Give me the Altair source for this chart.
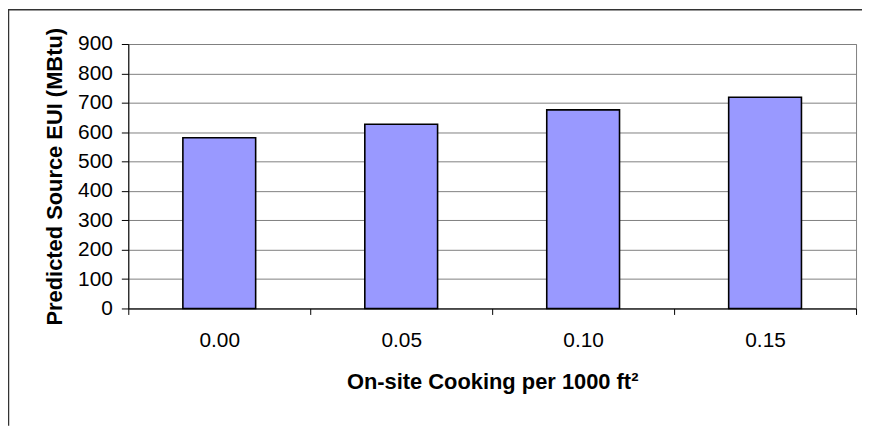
import altair as alt
import pandas as pd

categories = ["0.00", "0.05", "0.10", "0.15"]
values = [581, 627, 676, 719]
y_ticks = [0, 100, 200, 300, 400, 500, 600, 700, 800, 900]

df = pd.DataFrame({"cooking": categories, "eui": values})

FONT = "Arial, Liberation Sans, sans-serif"

bars = alt.Chart(df).mark_bar(
    width=alt.RelativeBandSize(0.4),
    fill="#9999FF",
    stroke="black",
    strokeWidth=1.6,
).encode(
    x=alt.X(
        "cooking:N",
        sort=categories,
        scale=alt.Scale(paddingInner=0, paddingOuter=0),
        axis=alt.Axis(
            title="On-site Cooking per 1000 ft²",
            labelAngle=0,
            labelFont=FONT,
            labelFontSize=21,
            labelColor="black",
            labelPadding=15,
            tickBand="extent",
            tickSize=6,
            tickColor="black",
            tickWidth=1,
            domainColor="black",
            domainWidth=1,
            grid=False,
            titleFont=FONT,
            titleFontSize=22,
            titleFontWeight="bold",
            titleColor="black",
            titleBaseline="alphabetic",
            titleY=81,
        ),
    ),
    y=alt.Y(
        "eui:Q",
        scale=alt.Scale(domain=[0, 900], nice=False),
        axis=alt.Axis(
            values=y_ticks,
            title="Predicted Source EUI (MBtu)",
            labelFont=FONT,
            labelFontSize=21,
            labelColor="black",
            labelPadding=9,
            tickSize=7,
            tickColor="black",
            tickWidth=1,
            domainColor="black",
            domainWidth=1,
            grid=True,
            gridColor="#808080",
            gridWidth=1,
            titleFont=FONT,
            titleFontSize=22,
            titleFontWeight="bold",
            titleColor="black",
            titleBaseline="alphabetic",
            titleAngle=270,
            titleX=-67,
            titleY=133,
            titleAlign="center",
        ),
    ),
)

frame_data = alt.Data(values=[{"k": 1}])
left_line = alt.Chart(frame_data).mark_rule(color="#333333", strokeWidth=1.5).encode(
    x=alt.value(-120.5), y=alt.value(-35), y2=alt.value(384)
)
top_line = alt.Chart(frame_data).mark_rule(color="#333333", strokeWidth=1.5).encode(
    x=alt.value(-121), x2=alt.value(738), y=alt.value(-34.5)
)

chart = alt.layer(bars, left_line, top_line).properties(
    width=732,
    height=266,
    padding={"left": 121, "top": 35, "right": 6, "bottom": 118},
    autosize=alt.AutoSizeParams(type="none"),
    background="white",
).configure_view(stroke="#808080", strokeWidth=1)

chart.save("out.html", embed_options={"renderer": "svg", "actions": False})
